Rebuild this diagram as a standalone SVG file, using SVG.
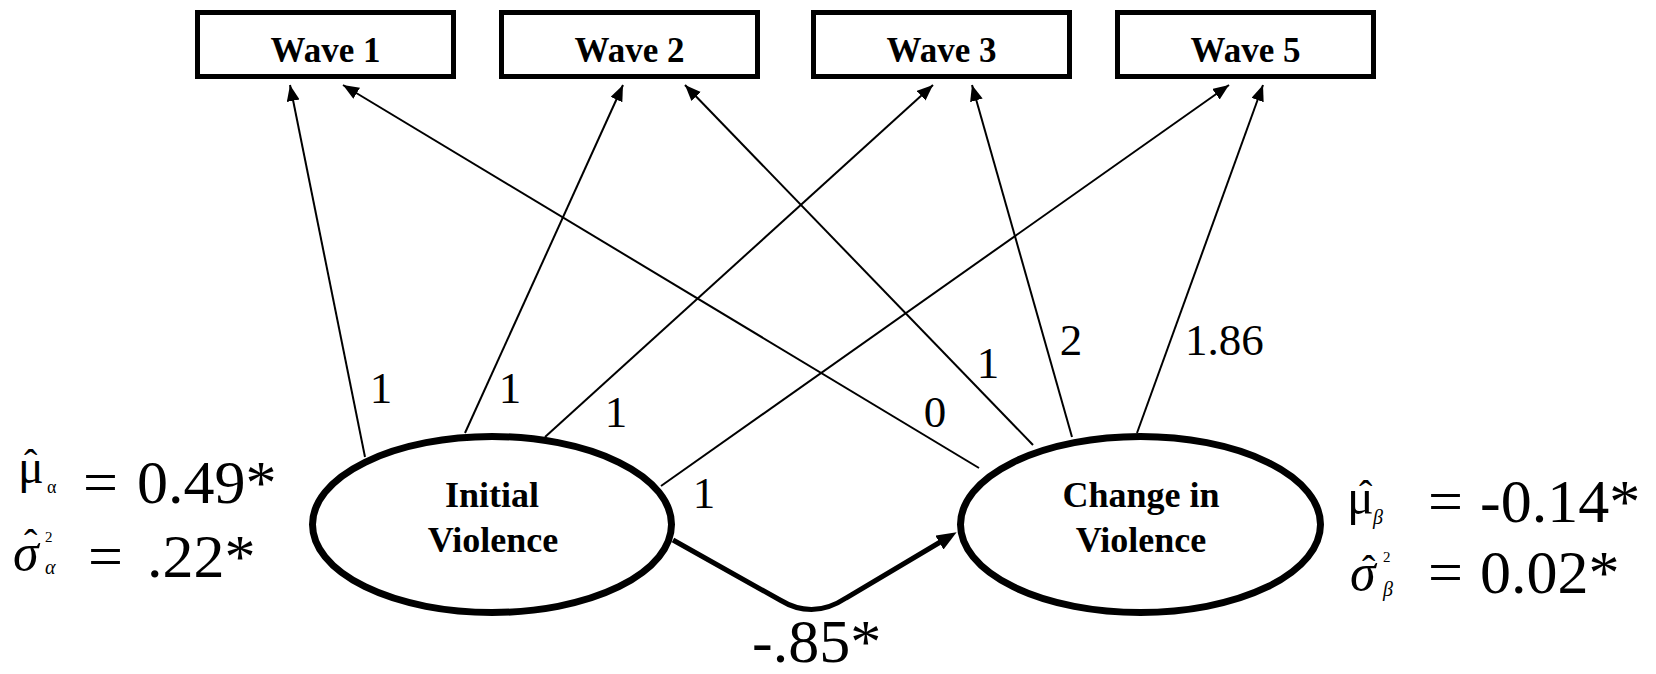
<svg xmlns="http://www.w3.org/2000/svg" width="1656" height="674" viewBox="0 0 1656 674">
<style>
.box{fill:#fff;stroke:#000;stroke-width:5}
.ell{fill:#fff;stroke:#000;stroke-width:7}
.lbl{font-family:'Liberation Serif','Times New Roman',serif;font-weight:bold;font-size:35px;text-anchor:middle;fill:#000}
.nlbl{font-family:'Liberation Serif','Times New Roman',serif;font-weight:bold;font-size:36px;text-anchor:middle;fill:#000}
.edge{stroke:#000;stroke-width:2;fill:none;marker-end:url(#ah)}
.thick{stroke:#000;stroke-width:5;fill:none;marker-end:url(#ahb)}
.num{font-family:'Liberation Serif','Times New Roman',serif;font-size:45px;fill:#000}
.eq{font-family:'Liberation Serif','Times New Roman',serif;font-size:62px;fill:#000}
.it{font-style:italic}
.hat{font-size:40px}
</style>
<defs>
<marker id="ah" markerUnits="userSpaceOnUse" markerWidth="18" markerHeight="14" refX="16" refY="6.5" orient="auto">
<path d="M0,0 L16,6.5 L0,13 z" fill="#000"/>
</marker>
<marker id="ahb" markerUnits="userSpaceOnUse" markerWidth="22" markerHeight="18" refX="3" refY="8" orient="auto">
<path d="M0,0 L20,8 L0,16 z" fill="#000"/>
</marker>
</defs>
<rect width="1656" height="674" fill="#fff"/>

<g id="connectors">
<line class="edge" x1="365" y1="457" x2="290" y2="85"/>
<line class="edge" x1="465" y1="433" x2="623" y2="85"/>
<line class="edge" x1="545" y1="437" x2="933" y2="85"/>
<line class="edge" x1="661" y1="486" x2="1229" y2="85"/>
<line class="edge" x1="979" y1="468" x2="343" y2="85"/>
<line class="edge" x1="1033" y1="445" x2="685" y2="85"/>
<line class="edge" x1="1072" y1="437" x2="972" y2="85"/>
<line class="edge" x1="1137" y1="433" x2="1263" y2="85"/>
<path class="thick" d="M673,540 L780,600 Q813,620 846,598 L942,541"/>
</g>

<g id="wave1"><rect class="box" x="197.5" y="12.5" width="256" height="64"/><text class="lbl" x="325.5" y="62">Wave 1</text></g>
<g id="wave2"><rect class="box" x="501.5" y="12.5" width="256" height="64"/><text class="lbl" x="629.5" y="62">Wave 2</text></g>
<g id="wave3"><rect class="box" x="813.5" y="12.5" width="256" height="64"/><text class="lbl" x="941.5" y="62">Wave 3</text></g>
<g id="wave5"><rect class="box" x="1117.5" y="12.5" width="256" height="64"/><text class="lbl" x="1245.5" y="62">Wave 5</text></g>

<g id="initial">
<ellipse class="ell" cx="492" cy="524.5" rx="179.5" ry="88"/>
<text class="nlbl" x="492" y="507">Initial</text>
<text class="nlbl" x="493" y="552">Violence</text>
</g>
<g id="change">
<ellipse class="ell" cx="1140.5" cy="524.5" rx="180" ry="88"/>
<text class="nlbl" x="1141" y="507">Change in</text>
<text class="nlbl" x="1141" y="552">Violence</text>
</g>

<g id="loadings">
<text class="num" x="381" y="403" text-anchor="middle">1</text>
<text class="num" x="510" y="403" text-anchor="middle">1</text>
<text class="num" x="616" y="427" text-anchor="middle">1</text>
<text class="num" x="704" y="508" text-anchor="middle">1</text>
<text class="num" x="935" y="427" text-anchor="middle">0</text>
<text class="num" x="988" y="378" text-anchor="middle">1</text>
<text class="num" x="1071" y="355" text-anchor="middle">2</text>
<text class="num" x="1185" y="355">1.86</text>
<text class="eq" x="752" y="662" font-size="61">-.85*</text>
</g>

<g id="left-stats">
<text class="eq"><tspan x="18" y="483" font-size="48">μ</tspan><tspan class="hat" x="24" y="477">ˆ</tspan><tspan x="47" y="493" font-size="18">α</tspan><tspan x="83" y="503">=</tspan><tspan x="137" y="503">0.49*</tspan></text>
<text class="eq"><tspan class="it" x="13" y="570" font-size="52">σ</tspan><tspan class="hat" x="24" y="557">ˆ</tspan><tspan x="45" y="542" font-size="15">2</tspan><tspan class="it" x="45" y="574" font-size="20">α</tspan><tspan x="88" y="577">=</tspan><tspan x="147" y="577">.22*</tspan></text>
</g>

<g id="right-stats">
<text class="eq"><tspan x="1347" y="514" font-size="50">μ</tspan><tspan class="hat" x="1359" y="508">ˆ</tspan><tspan class="it" x="1373" y="524" font-size="20">β</tspan><tspan x="1428" y="522">=</tspan><tspan x="1480" y="522">-0.14*</tspan></text>
<text class="eq"><tspan class="it" x="1350" y="590" font-size="52">σ</tspan><tspan class="hat" x="1362" y="583">ˆ</tspan><tspan x="1383" y="562" font-size="15">2</tspan><tspan class="it" x="1383" y="596" font-size="20">β</tspan><tspan x="1428" y="593">=</tspan><tspan x="1480" y="593">0.02*</tspan></text>
</g>
</svg>
